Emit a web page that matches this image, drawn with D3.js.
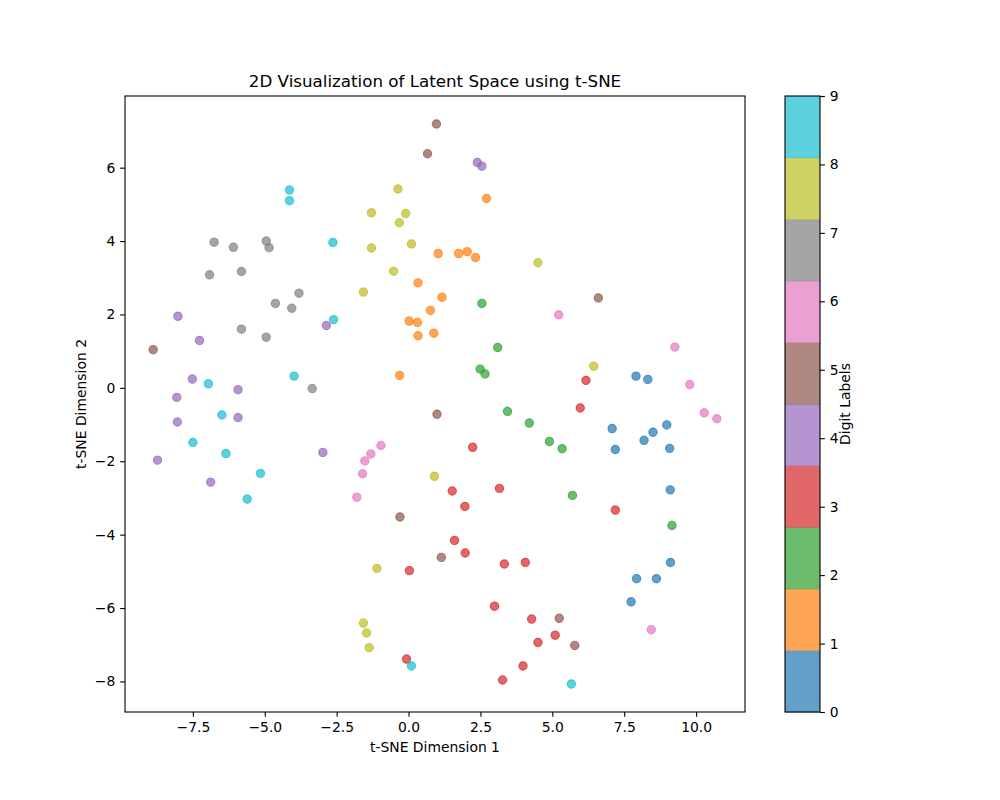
<!DOCTYPE html>
<html>
<head>
<meta charset="utf-8">
<script src="https://cdn.jsdelivr.net/npm/d3@7"></script>
<style>
  body { margin: 0; background: #fff; }
  svg { font-family: "DejaVu Sans", sans-serif; }
</style>
</head>
<body>
<svg id="chart" width="1000" height="800"></svg>
<script>
// ---- data ----
const labels0 = [[7.91,0.32],[8.32,0.23],[7.08,-1.11],[7.19,-1.68],[8.19,-1.43],[8.50,-1.21],[8.98,-1.01],[9.08,-1.65],[9.10,-2.78],[9.11,-4.76],[7.93,-5.20],[8.62,-5.20],[7.74,-5.83]];
const labels1 = [[2.71,5.16],[1.03,3.66],[1.74,3.66],[2.04,3.71],[2.33,3.55],[0.33,2.86],[1.16,2.47],[0.76,2.11],[0.02,1.82],[0.31,1.78],[0.33,1.42],[0.88,1.49],[-0.31,0.34]];
const labels2 = [[2.55,2.30],[3.10,1.10],[2.49,0.51],[2.66,0.38],[3.44,-0.64],[4.20,-0.96],[4.90,-1.46],[5.34,-1.66],[5.70,-2.93],[9.16,-3.75]];
const labels3 = [[6.17,0.20],[5.97,-0.55],[2.23,-1.62],[1.52,-2.81],[3.16,-2.74],[1.96,-3.23],[7.19,-3.33],[1.60,-4.16],[1.97,-4.50],[3.33,-4.80],[4.06,-4.76],[0.03,-4.98],[2.99,-5.95],[4.28,-6.30],[5.10,-6.74],[4.50,-6.94],[-0.07,-7.39],[3.98,-7.58],[3.27,-7.96]];
const labels4 = [[2.39,6.14],[2.55,6.04],[-8.02,1.95],[-7.27,1.29],[-2.86,1.70],[-7.52,0.24],[-5.93,-0.05],[-8.06,-0.26],[-8.04,-0.93],[-5.93,-0.81],[-8.73,-1.97],[-6.88,-2.57],[-2.98,-1.76]];
const labels5 = [[0.97,7.19],[0.66,6.38],[6.60,2.45],[-8.88,1.04],[0.99,-0.72],[-0.30,-3.52],[1.14,-4.62],[5.24,-6.28],[5.78,-7.02]];
const labels6 = [[5.22,1.99],[9.26,1.11],[9.78,0.09],[10.28,-0.68],[10.72,-0.84],[-0.96,-1.57],[-1.31,-1.80],[-1.52,-1.99],[-1.60,-2.34],[-1.80,-2.98],[8.44,-6.59]];
const labels7 = [[-6.76,3.97],[-6.09,3.83],[-4.95,4.00],[-4.85,3.82],[-6.92,3.08],[-5.81,3.17],[-3.81,2.58],[-4.63,2.30],[-4.06,2.17],[-5.81,1.60],[-4.95,1.38],[-3.35,-0.02]];
const labels8 = [[-0.37,5.42],[-1.29,4.77],[-0.10,4.75],[-0.32,4.50],[-1.29,3.81],[0.10,3.92],[-0.52,3.18],[-1.57,2.61],[4.50,3.41],[6.44,0.59],[0.90,-2.41],[-1.10,-4.92],[-1.57,-6.41],[-1.46,-6.68],[-1.37,-7.08]];
const labels9 = [[-4.14,5.39],[-4.14,5.10],[-2.63,3.96],[-2.61,1.86],[-3.98,0.32],[-6.96,0.11],[-6.49,-0.74],[-7.50,-1.49],[-6.35,-1.79],[-5.15,-2.33],[-5.61,-3.03],[0.10,-7.58],[5.66,-8.07]];
const seriesByLabel = [labels0, labels1, labels2, labels3, labels4, labels5, labels6, labels7, labels8, labels9];
const digitLabels = [0,1,2,3,4,5,6,7,8,9];
const xTicks = [-7.5,-5.0,-2.5,0.0,2.5,5.0,7.5,10.0];
const yTicks = [-8,-6,-4,-2,0,2,4,6];
const tab10 = ["#1f77b4","#ff7f0e","#2ca02c","#d62728","#9467bd","#8c564b","#e377c2","#7f7f7f","#bcbd22","#17becf"];

// ---- layout ----
const svg = d3.select("#chart");
const L = 125, R = 745, T = 96, B = 712;
const points = [];
seriesByLabel.forEach((arr, lab) => arr.forEach(p => points.push({x: p[0], y: p[1], label: lab})));

function padded(ext) { const r = ext[1] - ext[0]; return [ext[0] - 0.05 * r, ext[1] + 0.05 * r]; }
const x = d3.scaleLinear().domain(padded(d3.extent(points, d => d.x))).range([L, R]);
const y = d3.scaleLinear().domain(padded(d3.extent(points, d => d.y))).range([B, T]);
const color = d3.scaleOrdinal().domain(digitLabels).range(tab10);

const fmtX = d3.format(".1f"), fmtY = d3.format("d");
const tickLen = 4.86, fs = 13.9;

// points (drawn in original order by label)
svg.append("g").selectAll("circle").data(points).join("circle")
  .attr("cx", d => x(d.x)).attr("cy", d => y(d.y)).attr("r", 4.17)
  .attr("fill", d => color(d.label)).attr("fill-opacity", 0.7)
  .attr("stroke", d => color(d.label)).attr("stroke-opacity", 0.7).attr("stroke-width", 1.1);

// axes
const xAxis = d3.axisBottom(x).tickValues(xTicks).tickFormat(fmtX).tickSizeInner(tickLen).tickSizeOuter(0).tickPadding(4.9);
const yAxis = d3.axisLeft(y).tickValues(yTicks).tickFormat(fmtY).tickSizeInner(tickLen).tickSizeOuter(0).tickPadding(4.9);
const gx = svg.append("g").attr("transform", `translate(0,${B})`).call(xAxis);
const gy = svg.append("g").attr("transform", `translate(${L},0)`).call(yAxis);
[gx, gy].forEach(g => {
  g.select(".domain").remove();
  g.selectAll("line").attr("stroke", "#000").attr("stroke-width", 1.1);
  g.selectAll("text").attr("font-size", fs).attr("fill", "#000").attr("font-family", "DejaVu Sans");
});

// frame
svg.append("rect").attr("x", L).attr("y", T).attr("width", R - L).attr("height", B - T)
  .attr("fill", "none").attr("stroke", "#000").attr("stroke-width", 1.1);

// title & labels
svg.append("text").attr("x", (L + R) / 2).attr("y", 87).attr("text-anchor", "middle")
  .attr("font-size", 16.7).text("2D Visualization of Latent Space using t-SNE");
svg.append("text").attr("x", (L + R) / 2).attr("y", 752).attr("text-anchor", "middle")
  .attr("font-size", fs).text("t-SNE Dimension 1");
svg.append("text").attr("transform", `translate(86,${(T + B) / 2}) rotate(-90)`).attr("text-anchor", "middle")
  .attr("font-size", fs).text("t-SNE Dimension 2");

// colorbar
const CL = 785, CR = 820;
const cy = d3.scaleLinear().domain([0, 9]).range([B, T]);
const segH = 9 / digitLabels.length;
svg.append("g").selectAll("rect").data(digitLabels).join("rect")
  .attr("x", CL).attr("width", CR - CL)
  .attr("y", d => cy((d + 1) * segH)).attr("height", d => cy(d * segH) - cy((d + 1) * segH) + 0.5)
  .attr("fill", d => color(d)).attr("fill-opacity", 0.7);
svg.append("rect").attr("x", CL).attr("y", T).attr("width", CR - CL).attr("height", B - T)
  .attr("fill", "none").attr("stroke", "#000").attr("stroke-width", 1.1);
const cAxis = d3.axisRight(cy).tickValues(digitLabels).tickFormat(fmtY).tickSizeInner(tickLen).tickSizeOuter(0).tickPadding(4.9);
const gc = svg.append("g").attr("transform", `translate(${CR},0)`).call(cAxis);
gc.select(".domain").remove();
gc.selectAll("line").attr("stroke", "#000").attr("stroke-width", 1.1);
gc.selectAll("text").attr("font-size", fs).attr("fill", "#000").attr("font-family", "DejaVu Sans");
svg.append("text").attr("transform", `translate(850,${(T + B) / 2}) rotate(-90)`).attr("text-anchor", "middle")
  .attr("font-size", fs).text("Digit Labels");
</script>
</body>
</html>
